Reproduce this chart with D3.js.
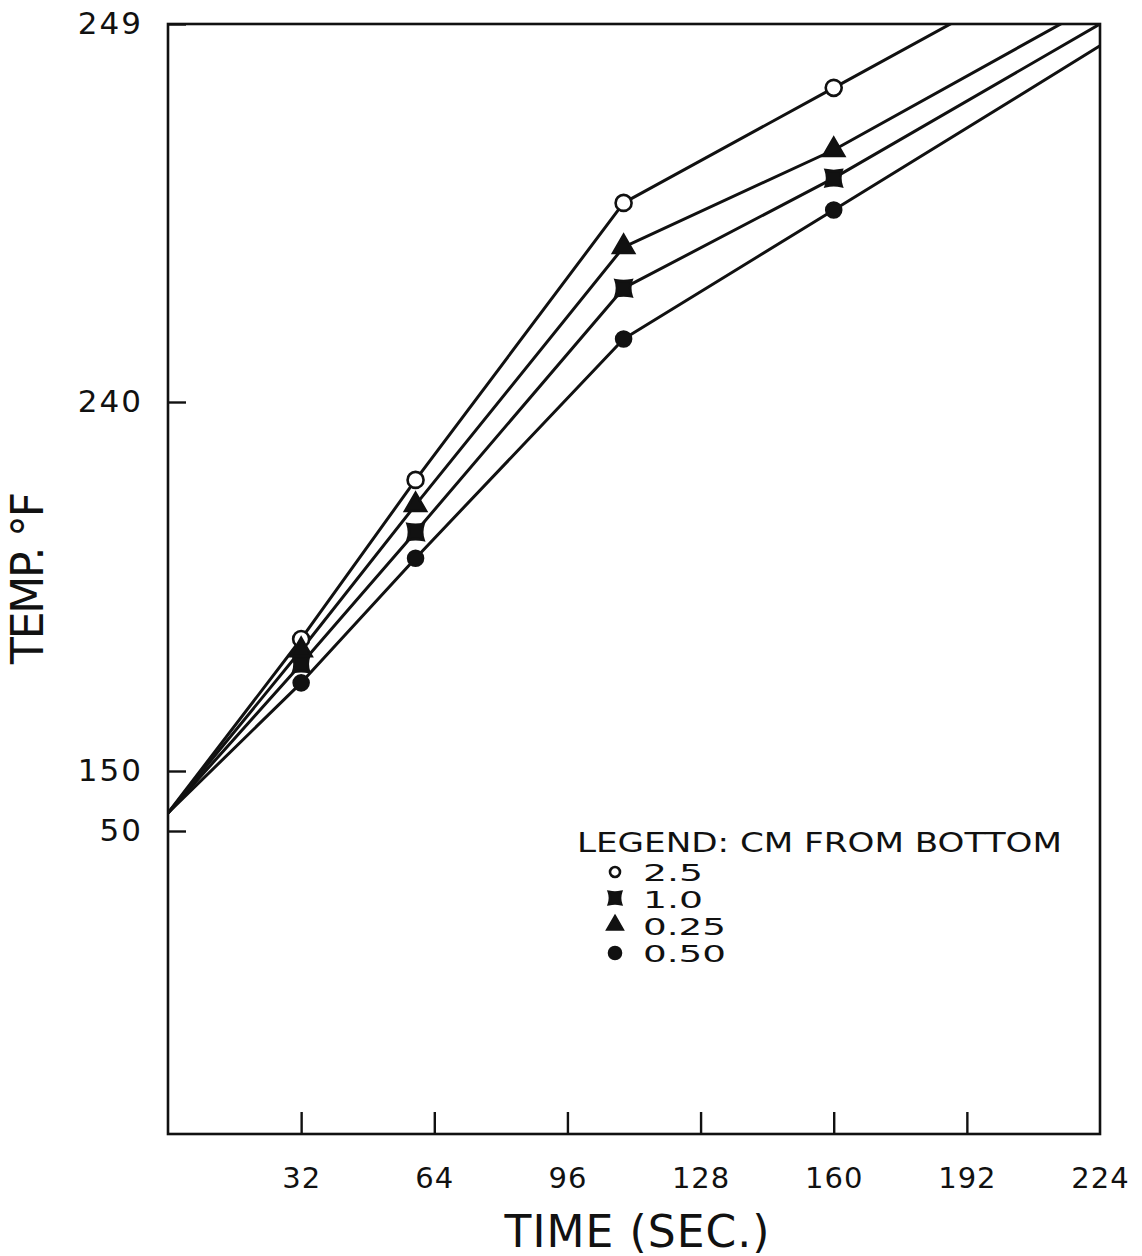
<!DOCTYPE html>
<html>
<head>
<meta charset="utf-8">
<script src="https://cdn.jsdelivr.net/npm/d3@7"></script>
<style>
  body { margin: 0; background: #fff; }
  text { font-family: "DejaVu Sans", sans-serif; fill: #111; }
</style>
</head>
<body>
<svg id="chart" width="1142" height="1256"></svg>
<script>
// Sampling times (s); first and last entries are the unmarked line ends
const times = [0, 32, 59.5, 109.5, 160, 224];
// Temperatures (°F) at each depth, cm from bottom
const temp_2_5  = [80, 182.2, 221.0, 244.74, 247.48, 250.95];
const temp_1_0  = [80, 176.1, 208.3, 242.71, 245.33, 249.0];
const temp_0_25 = [80, 179.5, 214.9, 243.69, 246.0, 249.52];
const temp_0_50 = [80, 171.5, 201.9, 241.5, 244.57, 248.48];
const depthLabels = ["2.5", "1.0", "0.25", "0.50"];
const xTickValues = [32, 64, 96, 128, 160, 192, 224];
const yTickValues = [50, 150, 240, 249];

const svg = d3.select("#chart");
const plotLeft = 168, plotRight = 1100, plotTop = 24, plotBottom = 1134;

const x = d3.scaleLinear().domain([0, 224]).range([plotLeft, plotRight]);
// broken temperature axis: each labelled band has its own stretch
const y = d3.scaleLinear().domain([50, 150, 240, 249]).range([831, 771, 402, plotTop]);

// concave-sided square marker
const bowtie = {
  draw(ctx, size) {
    const r = Math.sqrt(size) / 2, k = 0.35 * r;
    ctx.moveTo(-r, -r);
    ctx.quadraticCurveTo(0, -r + k * 0.6, r, -r);
    ctx.quadraticCurveTo(r - k, 0, r, r);
    ctx.quadraticCurveTo(0, r - k * 0.6, -r, r);
    ctx.quadraticCurveTo(-r + k, 0, -r, -r);
    ctx.closePath();
  }
};

const series = [
  { label: depthLabels[0], values: temp_2_5,  shape: d3.symbolCircle,   size: Math.PI * 64, legendSize: Math.PI * 25, fill: "#fff" },
  { label: depthLabels[1], values: temp_1_0,  shape: bowtie,            size: 256, legendSize: 150, fill: "#111" },
  { label: depthLabels[2], values: temp_0_25, shape: d3.symbolTriangle, size: 190, legendSize: 100, fill: "#111" },
  { label: depthLabels[3], values: temp_0_50, shape: d3.symbolCircle,   size: Math.PI * 56, legendSize: Math.PI * 36, fill: "#111" }
];

svg.append("clipPath").attr("id", "plot-clip")
  .append("rect").attr("x", plotLeft).attr("y", plotTop)
  .attr("width", plotRight - plotLeft).attr("height", plotBottom - plotTop);

// frame
svg.append("rect")
  .attr("x", plotLeft).attr("y", plotTop)
  .attr("width", plotRight - plotLeft).attr("height", plotBottom - plotTop)
  .attr("fill", "none").attr("stroke", "#111").attr("stroke-width", 2.6);

// x axis with inward ticks
const xAxis = svg.append("g")
  .attr("transform", `translate(0,${plotBottom})`)
  .call(d3.axisBottom(x).tickValues(xTickValues).tickSize(-22).tickPadding(33));
xAxis.select(".domain").remove();
xAxis.selectAll(".tick line").attr("stroke", "#111").attr("stroke-width", 2.4);
xAxis.selectAll(".tick text")
  .attr("font-size", 29).attr("font-family", "DejaVu Sans").attr("fill", "#111")
  .attr("letter-spacing", 1);
// the last tick coincides with the frame edge
xAxis.selectAll(".tick").filter(d => d === 224).select("line").remove();

// y axis with inward ticks
const yAxis = svg.append("g")
  .attr("transform", `translate(${plotLeft},0)`)
  .call(d3.axisLeft(y).tickValues(yTickValues).tickSize(-18).tickPadding(25));
yAxis.select(".domain").remove();
yAxis.selectAll(".tick line").attr("stroke", "#111").attr("stroke-width", 2.4);
yAxis.selectAll(".tick text")
  .attr("font-size", 31).attr("font-family", "DejaVu Sans").attr("fill", "#111")
  .attr("letter-spacing", 2);

// lines
const line = d3.line()
  .x((d, i) => x(times[i]))
  .y(d => y(d));

const plot = svg.append("g").attr("clip-path", "url(#plot-clip)");
series.forEach(s => {
  plot.append("path")
    .attr("d", line(s.values))
    .attr("fill", "none")
    .attr("stroke", "#111")
    .attr("stroke-width", 3)
    .attr("stroke-linejoin", "round");
});

// markers at the measured times only
series.forEach(s => {
  const idx = d3.range(1, times.length - 1);
  plot.selectAll(null)
    .data(idx)
    .join("path")
    .attr("transform", i => `translate(${x(times[i])},${y(s.values[i])})`)
    .attr("d", d3.symbol(s.shape, s.size))
    .attr("fill", s.fill)
    .attr("stroke", "#111")
    .attr("stroke-width", 2.6);
});

// legend
const legend = svg.append("g");
legend.append("text")
  .attr("x", 577).attr("y", 852)
  .attr("font-size", 27)
  .attr("textLength", 485).attr("lengthAdjust", "spacingAndGlyphs")
  .text("LEGEND: CM FROM BOTTOM");

// wide stencil-style figures: roughly 23px per digit, 14px per point
const labelWidth = s => s.split("").reduce((w, c) => w + (c === "." ? 14 : 23), 0);
const legendRows = [872, 898, 925, 953];
const legendBase = [881, 908, 935, 962];
series.forEach((s, i) => {
  legend.append("path")
    .attr("transform", `translate(615,${legendRows[i]})`)
    .attr("d", d3.symbol(s.shape, s.legendSize))
    .attr("fill", s.fill)
    .attr("stroke", "#111")
    .attr("stroke-width", 2.6);
  legend.append("text")
    .attr("x", 643).attr("y", legendBase[i])
    .attr("font-size", 23)
    .attr("textLength", labelWidth(s.label)).attr("lengthAdjust", "spacingAndGlyphs")
    .text(s.label);
});

// axis titles
svg.append("text")
  .attr("x", 637).attr("y", 1247)
  .attr("text-anchor", "middle")
  .attr("font-size", 44)
  .attr("textLength", 265).attr("lengthAdjust", "spacing")
  .text("TIME (SEC.)");

svg.append("text")
  .attr("transform", "translate(43,578) rotate(-90)")
  .attr("text-anchor", "middle")
  .attr("font-size", 44)
  .attr("textLength", 172).attr("lengthAdjust", "spacing")
  .text("TEMP. °F");
</script>
</body>
</html>
